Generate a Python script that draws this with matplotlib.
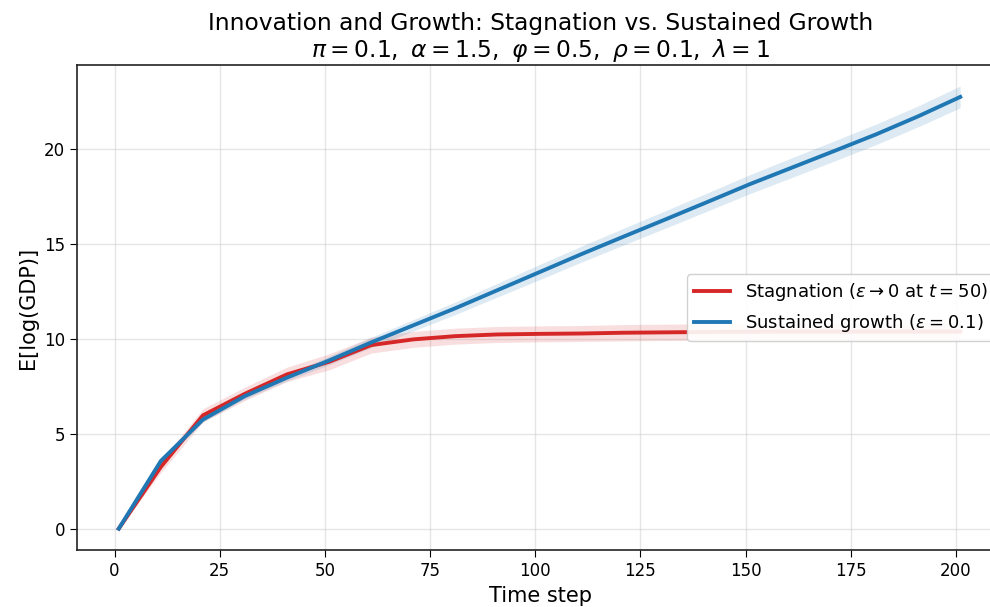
import matplotlib
matplotlib.use("Agg")
import matplotlib.pyplot as plt
import numpy as np

# Data
t = [1, 11, 21, 31, 41, 51, 61, 71, 81, 91, 101, 111, 121, 131, 141, 151, 161, 171, 181, 191, 201]
stag_mean = [0.0, 3.25, 5.96, 7.1, 8.12, 8.78, 9.66, 9.96, 10.13, 10.22, 10.25, 10.27, 10.31, 10.33, 10.35, 10.36, 10.37, 10.37, 10.37, 10.37, 10.37]
stag_band = [0.0, 0.3, 0.35, 0.35, 0.38, 0.42, 0.42, 0.42, 0.42, 0.42, 0.42, 0.42, 0.43, 0.43, 0.43, 0.44, 0.44, 0.44, 0.44, 0.44, 0.45]
grow_mean = [0.0, 3.56, 5.74, 6.98, 7.95, 8.85, 9.8, 10.7, 11.6, 12.55, 13.5, 14.45, 15.37, 16.28, 17.2, 18.13, 19.0, 19.87, 20.75, 21.7, 22.72]
grow_band = [0.0, 0.1, 0.12, 0.15, 0.18, 0.22, 0.27, 0.3, 0.33, 0.36, 0.4, 0.42, 0.44, 0.46, 0.48, 0.5, 0.52, 0.53, 0.54, 0.55, 0.57]

title = ("Innovation and Growth: Stagnation vs. Sustained Growth\n"
         r"$\pi = 0.1,\ \alpha = 1.5,\ \varphi = 0.5,\ \rho = 0.1,\ \lambda = 1$")
lab_stag = r"Stagnation ($\varepsilon \to 0$ at $t = 50$)"
lab_grow = r"Sustained growth ($\varepsilon = 0.1$)"

t = np.array(t)
sm, sb = np.array(stag_mean), np.array(stag_band)
gm, gb = np.array(grow_mean), np.array(grow_band)

red = "#d62728"
blue = "#1f77b4"

fig = plt.figure(figsize=(9.9, 6.07), dpi=100)
ax = fig.add_axes([76.7 / 990, 1 - 550.3 / 607, (1004 - 76.7) / 990, (550.3 - 65) / 607])

ax.fill_between(t, sm - sb, sm + sb, color=red, alpha=0.15, linewidth=0)
ax.plot(t, sm, color=red, lw=2.8, label=lab_stag)
ax.fill_between(t, gm - gb, gm + gb, color=blue, alpha=0.15, linewidth=0)
ax.plot(t, gm, color=blue, lw=2.8, label=lab_grow)

ax.set_xlim(-9.0, 211.4)
ax.set_ylim(-1.14, 24.4)
ax.set_xticks([0, 25, 50, 75, 100, 125, 150, 175, 200])
ax.set_yticks([0, 5, 10, 15, 20])
ax.tick_params(labelsize=12, length=5)
ax.grid(True, color="#cccccc", alpha=0.5, linewidth=1)
ax.set_axisbelow(True)
for s in ax.spines.values():
    s.set_color("#222222")
    s.set_linewidth(1.2)

ax.set_xlabel("Time step", fontsize=15)
ax.set_ylabel("E[log(GDP)]", fontsize=15)
ax.set_title(title, fontsize=16.8, linespacing=1.1)
ax.legend(loc="center right", fontsize=13, framealpha=0.9)

fig.savefig("out.png", dpi=100)
